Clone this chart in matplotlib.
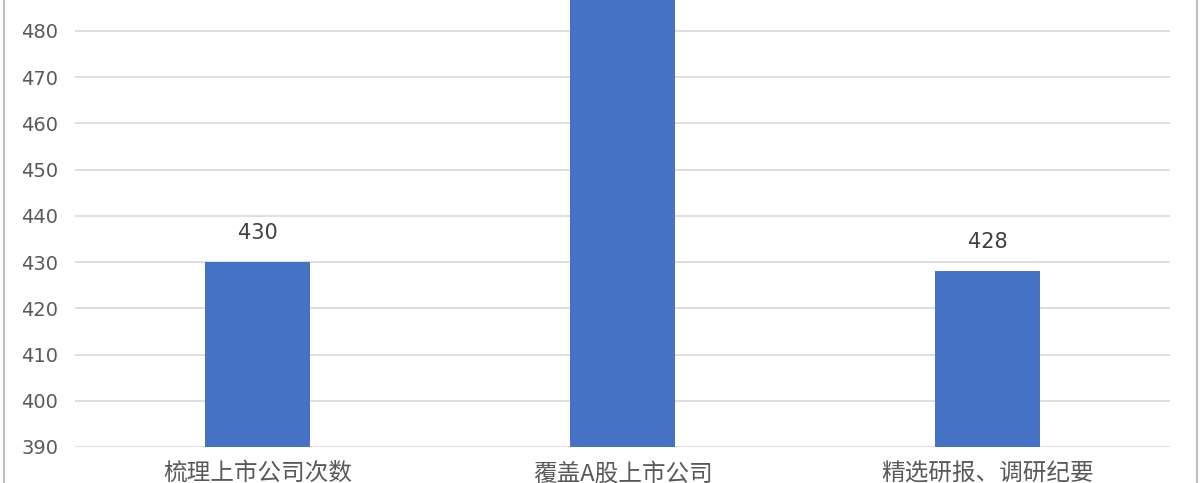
import matplotlib
matplotlib.use("Agg")
import matplotlib.pyplot as plt
from matplotlib.lines import Line2D

categories = ["梳理上市公司次数", "覆盖A股上市公司", "精选研报、调研纪要"]
values = [430, 5000, 428]
yticks = [390, 400, 410, 420, 430, 440, 450, 460, 470, 480]

plt.rcParams['font.family'] = ['Noto Sans CJK SC', 'DejaVu Sans']

W, H = 1200, 483
fig = plt.figure(figsize=(W / 100, H / 100), dpi=100)
ax = fig.add_axes([75 / W, 36 / H, 1095 / W, 447 / H])

x = list(range(len(categories)))
ax.bar(x, values, width=0.288, color="#4472C4", zorder=3)
ax.set_xlim(-0.5, 2.5)
ax.set_ylim(390, 486.7)
ax.set_yticks(yticks)
ax.set_xticks(x)
ax.set_xticklabels(categories, fontsize=17, color="#595959")
ax.tick_params(axis='x', length=0, pad=11)
ax.tick_params(axis='y', length=0, pad=12, labelsize=14, labelcolor="#595959")
for lbl in ax.get_yticklabels():
    lbl.set_family(['DejaVu Sans'])
ax.grid(axis='y', color="#D9D9D9", linewidth=1.2, zorder=0)
for s in ax.spines.values():
    s.set_visible(False)

for xi, v in zip(x, values):
    ax.annotate(str(v), (xi, v), xytext=(0, 14), textcoords='offset points',
                ha='center', va='bottom', fontsize=15, color="#404040",
                family=['DejaVu Sans'], annotation_clip=True)

fig.add_artist(Line2D([4 / W, 4 / W], [0, 1], color="#BFBFBF", lw=1.5, transform=fig.transFigure))
fig.add_artist(Line2D([1197 / W, 1197 / W], [0, 1], color="#BFBFBF", lw=1.5, transform=fig.transFigure))

fig.savefig("out.png", dpi=100)
